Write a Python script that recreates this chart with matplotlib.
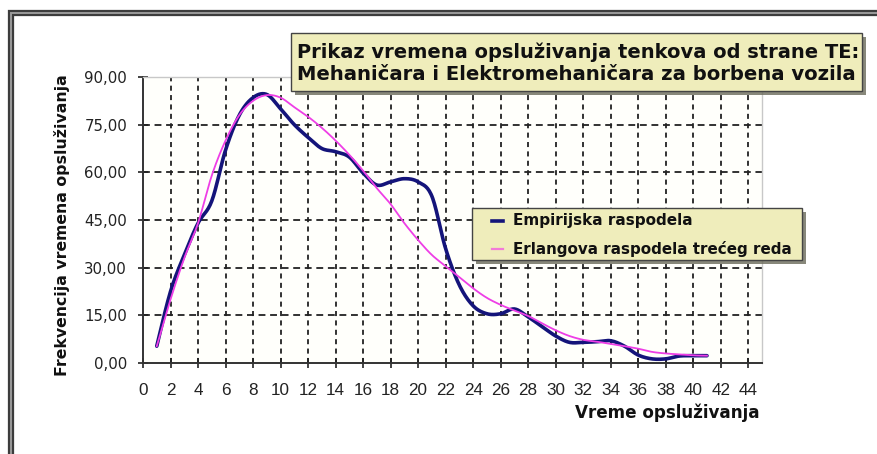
import numpy as np
import matplotlib
matplotlib.use("Agg")
import matplotlib.pyplot as plt
from matplotlib.patches import Rectangle
from matplotlib.lines import Line2D

# ---- data ----
x_vals = list(range(1, 42))
empirijska = [5.3, 22.5, 34, 44, 51, 67, 78, 83.5, 84.5, 80,
              75, 71, 67.5, 66.5, 64.8, 59.8, 56, 57, 58, 57,
              52.5, 36, 24.5, 18, 15.5, 15.5, 17, 14.5, 11.5, 8.5,
              6.5, 6.5, 6.7, 7, 5.3, 2.5, 1.3, 1.3, 2.2, 2.3, 2.3]
erlang = [5.3, 20, 33, 44, 59, 70, 78, 82.5, 84.3, 83.5,
          80.5, 77.5, 74, 70, 65.5, 60.5, 55, 50, 44, 38.7,
          34, 30.5, 27, 23.5, 20.5, 18.3, 16.5, 14.8, 12.5, 10.3,
          8.5, 7.3, 6.7, 6, 5.3, 4.5, 3.5, 3, 2.7, 2.4, 2.3]
x_ticks = list(range(0, 45, 2))
y_ticks = [0, 15, 30, 45, 60, 75, 90]
y_ticklabels = ["0,00", "15,00", "30,00", "45,00", "60,00", "75,00", "90,00"]
title_lines = ["Prikaz vremena opsluživanja tenkova od strane TE:",
               "Mehaničara i Elektromehaničara za borbena vozila"]
series_names = ["Empirijska raspodela", "Erlangova raspodela trećeg reda"]
xlabel = "Vreme opsluživanja"
ylabel = "Frekvencija vremena opsluživanja"


def smooth(x, y, n=16):
    P = np.column_stack([x, y]).astype(float)
    P = np.vstack([P[0], P, P[-1]])
    out = []
    t = np.linspace(0, 1, n, endpoint=False)[:, None]
    for i in range(1, len(P) - 2):
        p0, p1, p2, p3 = P[i - 1], P[i], P[i + 1], P[i + 2]
        pts = 0.5 * ((2 * p1) + (-p0 + p2) * t + (2 * p0 - 5 * p1 + 4 * p2 - p3) * t ** 2
                     + (-p0 + 3 * p1 - 3 * p2 + p3) * t ** 3)
        out.append(pts)
    out.append(P[-2][None, :])
    out = np.vstack(out)
    return out[:, 0], out[:, 1]


W, H = 877, 454
fig = plt.figure(figsize=(W / 100, H / 100), dpi=100)
fig.patch.set_facecolor("white")
renderer = fig.canvas.get_renderer()

wide = ["DejaVu Sans"]
reg = ["Liberation Sans", "DejaVu Sans"]


def fit_text(x_px, y_px, s, target_px, rotation=0, ha="left", base=12, **kw):
    t = fig.text(x_px / W, 1 - y_px / H, s, rotation=rotation, ha=ha, va="center",
                 fontsize=base, family=wide, fontweight="bold", color="#111111", **kw)
    bb = t.get_window_extent(renderer)
    cur = bb.height if rotation == 90 else bb.width
    t.set_fontsize(base * target_px / cur)
    return t


# outer frame
fig.add_artist(Rectangle((11 / W, 1 - 470 / H), 900 / W, 457 / H, transform=fig.transFigure,
                         fill=False, edgecolor="#3c3c3c", linewidth=4.5))
fig.add_artist(Rectangle((11 / W, 1 - 470 / H), 900 / W, 457 / H, transform=fig.transFigure,
                         fill=False, edgecolor="#9a9a9a", linewidth=1.4))

ax = fig.add_axes([143 / W, 1 - 363 / H, (762 - 143) / W, (363 - 77) / H])
ax.set_facecolor("#fffffb")
ax.set_xlim(0, 45)
ax.set_ylim(0, 90)

for xv in x_ticks[1:]:
    ax.axvline(xv, color="#222222", linestyle=(0, (2.8, 2.4)), linewidth=1.3, zorder=1)
for yv in y_ticks[1:-1]:
    ax.axhline(yv, color="#222222", linestyle=(0, (3.8, 2.6)), linewidth=1.3, zorder=1)

bx, by = smooth(x_vals, empirijska)
ex, ey = smooth(x_vals, erlang)
ax.plot(bx, by, color="#14147a", linewidth=2.6, zorder=3, solid_capstyle="round")
ax.plot(ex, ey, color="#ee3ee6", linewidth=1.3, zorder=4)

ax.set_xticks(x_ticks)
ax.set_xticklabels([str(v) for v in x_ticks], family=reg, fontsize=12.3, color="#222222")
ax.set_yticks(y_ticks)
ax.set_yticklabels(y_ticklabels, family=wide, fontsize=10.8, color="#222222")
ax.tick_params(axis="both", direction="inout", length=7, width=1.2, colors="#222222")
ax.tick_params(axis="x", pad=11)
ax.tick_params(axis="y", pad=8)
for lab in ax.get_xticklabels() + ax.get_yticklabels():
    lab.set_color("#222222")
for s in ["left", "bottom"]:
    ax.spines[s].set_color("#333333")
    ax.spines[s].set_linewidth(1.4)
for s in ["top", "right"]:
    ax.spines[s].set_color("#c8c8c8")
    ax.spines[s].set_linewidth(1.0)

fit_text(62, 225, ylabel, 300, rotation=90, ha="center", base=11)
fit_text(760, 413, xlabel, 185, ha="right", base=11)


def box(x0, y0, x1, y1):
    fig.add_artist(Rectangle((x0 / W + 4 / W, 1 - (y1 + 4) / H), (x1 - x0) / W, (y1 - y0) / H,
                             transform=fig.transFigure, facecolor="#6a6a5a", edgecolor="none",
                             alpha=0.8, zorder=8))
    fig.add_artist(Rectangle((x0 / W, 1 - y1 / H), (x1 - x0) / W, (y1 - y0) / H,
                             transform=fig.transFigure, facecolor="#efedbb", edgecolor="#444444",
                             linewidth=1.0, zorder=9))


box(291, 33, 862, 91)
fit_text(297, 52, title_lines[0], 560, base=13, zorder=10)
fit_text(297, 75, title_lines[1], 554, base=13, zorder=10)

box(472, 208, 802, 260)
fig.add_artist(Line2D([492 / W, 503 / W], [1 - 221 / H, 1 - 221 / H], transform=fig.transFigure,
                      color="#14147a", linewidth=2.6, zorder=10))
fig.add_artist(Line2D([492 / W, 503 / W], [1 - 249 / H, 1 - 249 / H], transform=fig.transFigure,
                      color="#f27ad8", linewidth=1.6, zorder=10))
fit_text(513, 221, series_names[0], 180, base=10, zorder=10)
fit_text(513, 249, series_names[1], 281, base=10, zorder=10)

fig.savefig("out.png", dpi=100)
